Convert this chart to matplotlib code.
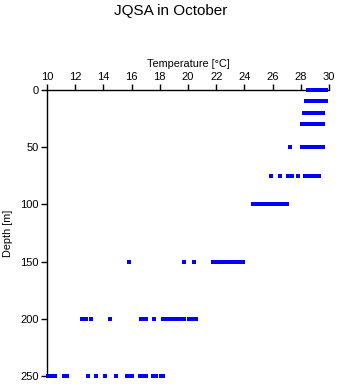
import matplotlib
matplotlib.use("Agg")
import matplotlib.pyplot as plt

plt.rcParams['font.family'] = ['Liberation Sans', 'DejaVu Sans']

# Temperature readings per standard depth level
depths = [0, 10, 20, 30, 50, 75, 100, 150, 200, 250]

temp_0 = [28.5, 28.6, 28.7, 28.8, 28.9, 29.0, 29.1, 29.2, 29.3, 29.4, 29.5, 29.6, 29.8]
temp_10 = [28.4, 28.6, 28.7, 28.8, 28.9, 29.0, 29.1, 29.2, 29.3, 29.4, 29.5, 29.6, 29.7, 29.8]
temp_20 = [28.2, 28.5, 28.6, 28.7, 28.8, 28.9, 29.0, 29.1, 29.2, 29.3, 29.4, 29.5, 29.6]
temp_30 = [28.1, 28.2, 28.3, 28.4, 28.5, 28.6, 28.7, 28.8, 28.9, 29.0, 29.1, 29.2, 29.3,
           29.4, 29.5, 29.6]
temp_50 = [27.2, 28.1, 28.2, 28.3, 28.4, 28.5, 28.6, 28.7, 28.8, 28.9, 29.0, 29.1, 29.2,
           29.3, 29.4, 29.5, 29.6]
temp_75 = [25.9, 26.5, 27.1, 27.2, 27.4, 27.8, 28.3, 28.6, 28.8, 28.9, 29.0, 29.1, 29.2, 29.3]
temp_100 = [24.6, 24.7, 24.8, 25.0, 25.1, 25.4, 25.5, 25.6, 25.8, 25.9, 26.0, 26.2,
            26.3, 26.5, 26.7, 26.8, 27.0]
temp_150 = [15.8, 19.7, 20.4, 21.75, 21.9, 22.0, 22.2, 22.3, 22.4, 22.5, 22.7, 22.8,
            22.9, 23.1, 23.2, 23.3, 23.5, 23.7, 23.9]
temp_200 = [12.5, 12.7, 12.8, 13.1, 14.5, 16.7, 16.9, 17.0, 17.6, 18.2, 18.5, 18.7, 18.9,
            19.0, 19.2, 19.4, 19.7, 20.1, 20.3, 20.6]
temp_250 = [10.1, 10.3, 10.6, 11.2, 11.4, 12.9, 13.5, 14.1, 14.9, 15.65, 15.8, 16.05, 16.6,
            16.8, 17.0, 17.5, 17.7, 18.1, 18.2]

temps = [temp_0, temp_10, temp_20, temp_30, temp_50, temp_75, temp_100,
         temp_150, temp_200, temp_250]

x_ticks = [10, 12, 14, 16, 18, 20, 22, 24, 26, 28, 30]
y_ticks = [0, 50, 100, 150, 200, 250]

fig = plt.figure(figsize=(3.41, 3.84), dpi=100)
ax = fig.add_axes([0.1378, 0.0208, 0.827, 0.745])

for d, t in zip(depths, temps):
    ax.plot(t, [d] * len(t), linestyle='none', marker='s', markersize=2.3,
            color='#0000ff', markeredgewidth=0, antialiased=False,
            clip_on=False, zorder=5)

ax.set_xlim(10, 30)
ax.set_ylim(250, 0)
ax.set_xticks(x_ticks)
ax.set_yticks(y_ticks)
ax.xaxis.tick_top()
ax.xaxis.set_label_position('top')
ax.spines['right'].set_visible(False)
ax.spines['bottom'].set_visible(False)
for s in ['left', 'top']:
    ax.spines[s].set_linewidth(1)
ax.tick_params(axis='both', direction='out', length=4, width=1, labelsize=8, pad=2)
ax.set_xlabel('Temperature [°C]', fontsize=7.8, labelpad=3)
ax.set_ylabel('Depth [m]', fontsize=7.8, labelpad=5)
fig.suptitle('JQSA in October', fontsize=11, y=0.99)

fig.savefig('out.png', dpi=100)
